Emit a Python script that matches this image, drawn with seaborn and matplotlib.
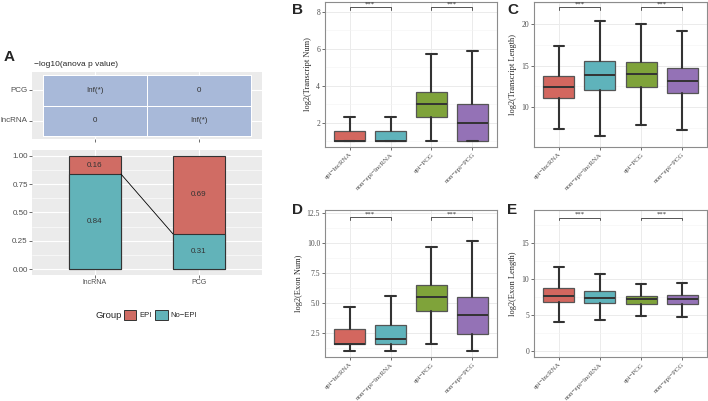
import numpy as np
import pandas as pd
import matplotlib.pyplot as plt
from matplotlib.colors import ListedColormap
from matplotlib.patches import Patch
from matplotlib.ticker import MultipleLocator
import seaborn as sns

# ---- data ----
# panel A
genes = ['lncRNA', 'PCG']
epi_frac = [0.16, 0.69]
noepi_frac = [0.84, 0.31]
heat_rows = ['PCG', 'lncRNA']
heat_cols = ['lncRNA', 'PCG']
neglog10_p = [[np.inf, 0], [0, np.inf]]

# panels B-E
groups = ['epi−lncRNA', 'non−epi−lncRNA', 'epi−PCG', 'non−epi−PCG']
sig_pairs = [(0, 1), (2, 3)]
sig_text = ['***', '***']

# B: log2(Transcript Num)
tnum_lo = [1.0, 1.0, 1.0, 1.0]
tnum_q1 = [1.0, 1.0, 2.32, 1.0]
tnum_med = [1.0, 1.0, 3.0, 2.0]
tnum_q3 = [1.58, 1.58, 3.7, 3.0]
tnum_hi = [2.32, 2.32, 5.73, 5.88]
tnum_sig = 8.25

# C: log2(Transcript Length)
tlen_lo = [7.35, 6.5, 7.8, 7.3]
tlen_q1 = [11.1, 12.0, 12.4, 11.7]
tlen_med = [12.4, 13.9, 14.0, 13.2]
tlen_q3 = [13.7, 15.6, 15.4, 14.7]
tlen_hi = [17.35, 20.4, 20.0, 19.2]
tlen_sig = 22.0

# D: log2(Exon Num)
enum_lo = [1.0, 1.0, 1.58, 1.0]
enum_q1 = [1.58, 1.58, 4.36, 2.39]
enum_med = [1.58, 2.0, 5.5, 4.0]
enum_q3 = [2.81, 3.17, 6.47, 5.47]
enum_hi = [4.64, 5.56, 9.69, 10.14]
enum_sig = 12.17

# E: log2(Exon Length)
elen_lo = [3.9, 4.23, 4.83, 4.7]
elen_q1 = [6.74, 6.6, 6.5, 6.5]
elen_med = [7.57, 7.3, 7.1, 7.1]
elen_q3 = [8.64, 8.22, 7.53, 7.66]
elen_hi = [11.6, 10.7, 9.2, 9.43]
elen_sig = 18.5

epi_col = '#D06C64'
noepi_col = '#62B3B9'
heat_col = '#A8B9D9'
box_colors = ['#D3675F', '#5FB3BB', '#7FA33A', '#9472B6']

sns.set_style('white')
plt.rcParams['font.family'] = ['Liberation Sans', 'DejaVu Sans']

W, H = 708, 401
fig = plt.figure(figsize=(W / 100, H / 100), dpi=100)


def px_axes(x0, y0, x1, y1):
    return fig.add_axes([x0 / W, 1 - y1 / H, (x1 - x0) / W, (y1 - y0) / H])


def ggplot_grey(ax):
    ax.set_facecolor('#EBEBEB')
    for s in ax.spines.values():
        s.set_visible(False)
    ax.set_axisbelow(True)
    ax.tick_params(length=2, width=0.5, color='#333333', labelsize=5.8,
                   labelcolor='#4D4D4D', pad=1, bottom=True, left=True)


# ---- A: heatmap ----
axh = px_axes(32, 72, 262, 139)
heat_df = pd.DataFrame(neglog10_p, index=heat_rows, columns=heat_cols)
annot = heat_df.apply(lambda c: c.map(lambda v: 'Inf(*)' if np.isinf(v) else f'{v:g}'))
sns.heatmap(np.zeros(heat_df.shape), ax=axh,
            cmap=ListedColormap([heat_col]), cbar=False,
            annot=annot.values, fmt='', linewidths=0.6, linecolor='white',
            annot_kws=dict(fontsize=5.8, color='#333333'))
axh.set_xlim(-0.105, 2.105)
axh.set_ylim(2.105, -0.105)
ggplot_grey(axh)
axh.set_xticks([0.5, 1.5])
axh.set_xticklabels([])
axh.set_yticks([0.5, 1.5])
axh.set_yticklabels(heat_rows, rotation=0)
axh.grid(True, color='white', lw=0.8)
axh.set_xlabel('')
axh.set_ylabel('')
axh.set_title('−log10(anova p value)', loc='left', fontsize=6, pad=4, x=0.01)

# ---- A: stacked bars ----
axb = px_axes(32, 150, 262, 275)
bar_df = pd.DataFrame({'gene': genes, 'EPI': epi_frac, 'No-EPI': noepi_frac})
bar_df['total'] = bar_df['EPI'] + bar_df['No-EPI']
sns.barplot(data=bar_df, x='gene', y='total', color=epi_col, saturation=1,
            width=0.5, edgecolor='#333333', linewidth=0.8, errorbar=None, ax=axb)
sns.barplot(data=bar_df, x='gene', y='No-EPI', color=noepi_col, saturation=1,
            width=0.5, edgecolor='#333333', linewidth=0.8, errorbar=None, ax=axb)
for i in range(len(genes)):
    axb.text(i, noepi_frac[i] + epi_frac[i] / 2, f'{epi_frac[i]:.2f}',
             ha='center', va='center', fontsize=5.8, color='#333333')
    axb.text(i, noepi_frac[i] / 2, f'{noepi_frac[i]:.2f}',
             ha='center', va='center', fontsize=5.8, color='#333333')
axb.plot([0.25, 0.75], [noepi_frac[0], noepi_frac[1]], color='black', lw=0.6)
axb.set_xlim(-0.605, 1.605)
axb.set_ylim(-0.053, 1.053)
ggplot_grey(axb)
axb.set_yticks([0, 0.25, 0.5, 0.75, 1.0])
axb.set_yticklabels(['0.00', '0.25', '0.50', '0.75', '1.00'])
axb.yaxis.set_minor_locator(MultipleLocator(0.125))
axb.grid(True, which='major', color='white', lw=0.8)
axb.grid(True, which='minor', axis='y', color='white', lw=0.4)
axb.tick_params(axis='x', labelsize=5)
axb.set_xlabel('')
axb.set_ylabel('')

fig.text(96 / W, 1 - 315 / H, 'Group', fontsize=6.8, va='center', ha='left')
handles = [Patch(facecolor=epi_col, edgecolor='#333333', lw=0.7, label='EPI'),
           Patch(facecolor=noepi_col, edgecolor='#333333', lw=0.7, label='No−EPI')]
fig.legend(handles=handles, ncol=2, loc='center left',
           bbox_to_anchor=(124 / W, 1 - 315 / H), frameon=False, fontsize=5.5,
           handlelength=1.6, handleheight=1.8, columnspacing=0.5,
           handletextpad=0.4, borderpad=0, borderaxespad=0)


# ---- B-E: box panels ----
def box_panel(ax, lo, q1, med, q3, hi, sig_y, ylabel, ylim, yticks, ticklabels):
    stats = [dict(whislo=lo[i], q1=q1[i], med=med[i], q3=q3[i], whishi=hi[i],
                  fliers=[]) for i in range(len(groups))]
    bp = ax.bxp(stats, positions=range(len(groups)), widths=0.75,
                patch_artist=True, showfliers=False, capwidths=0.25,
                boxprops=dict(edgecolor='#555555', linewidth=0.9),
                medianprops=dict(color='#333333', linewidth=1.4),
                whiskerprops=dict(color='#333333', linewidth=1.5),
                capprops=dict(color='#333333', linewidth=1.5))
    for patch, c in zip(bp['boxes'], box_colors):
        patch.set_facecolor(c)
    ax.set_xlim(-0.6, 3.6)
    ax.set_ylim(*ylim)
    dy = 0.018 * (ylim[1] - ylim[0])
    for (a, b), t in zip(sig_pairs, sig_text):
        ax.plot([a, a, b, b], [sig_y - dy, sig_y, sig_y, sig_y - dy],
                color='#555555', lw=0.7)
        ax.text((a + b) / 2, sig_y + dy * 0.2, t, ha='center', va='bottom',
                fontsize=4.8, family='Liberation Serif')
    ax.set_yticks(yticks)
    ax.set_yticklabels(ticklabels, family='Liberation Serif')
    ax.yaxis.set_minor_locator(MultipleLocator((yticks[1] - yticks[0]) / 2))
    ax.set_xticks(range(len(groups)))
    ax.set_xticklabels(groups, rotation=45, ha='right', rotation_mode='anchor',
                       family='Liberation Serif')
    ax.set_axisbelow(True)
    ax.grid(True, which='major', color='#EBEBEB', lw=0.7)
    ax.grid(True, which='minor', axis='y', color='#F3F3F3', lw=0.4)
    for s in ax.spines.values():
        s.set_color('#8C8C8C')
        s.set_linewidth(0.8)
    ax.tick_params(length=2, width=0.5, color='#333333', labelsize=5.5,
                   labelcolor='#4D4D4D', pad=1.5, bottom=True, left=True)
    ax.tick_params(axis='x', labelsize=5)
    ax.set_ylabel(ylabel, family='Liberation Serif', fontsize=6, labelpad=3)


axB = px_axes(325, 2, 497, 147)
box_panel(axB, tnum_lo, tnum_q1, tnum_med, tnum_q3, tnum_hi, tnum_sig,
          'log2(Transcript Num)', (0.7, 8.54), [2, 4, 6, 8], ['2', '4', '6', '8'])
axC = px_axes(534, 2, 707, 147)
box_panel(axC, tlen_lo, tlen_q1, tlen_med, tlen_q3, tlen_hi, tlen_sig,
          'log2(Transcript Length)', (5.2, 22.65), [10, 15, 20], ['10', '15', '20'])
axD = px_axes(325, 210, 497, 357)
box_panel(axD, enum_lo, enum_q1, enum_med, enum_q3, enum_hi, enum_sig,
          'log2(Exon Num)', (0.5, 12.75), [2.5, 5.0, 7.5, 10.0, 12.5],
          ['2.5', '5.0', '7.5', '10.0', '12.5'])
axE = px_axes(534, 210, 707, 357)
box_panel(axE, elen_lo, elen_q1, elen_med, elen_q3, elen_hi, elen_sig,
          'log2(Exon Length)', (-0.9, 19.55), [0, 5, 10, 15], ['0', '5', '10', '15'])

for lab, x, y in [('A', 4, 61), ('B', 292, 14), ('C', 507, 14),
                  ('D', 292, 214), ('E', 507, 214)]:
    fig.text(x / W, 1 - y / H, lab, fontsize=11, fontweight='bold',
             va='baseline', ha='left')

fig.savefig('out.png', dpi=100)
